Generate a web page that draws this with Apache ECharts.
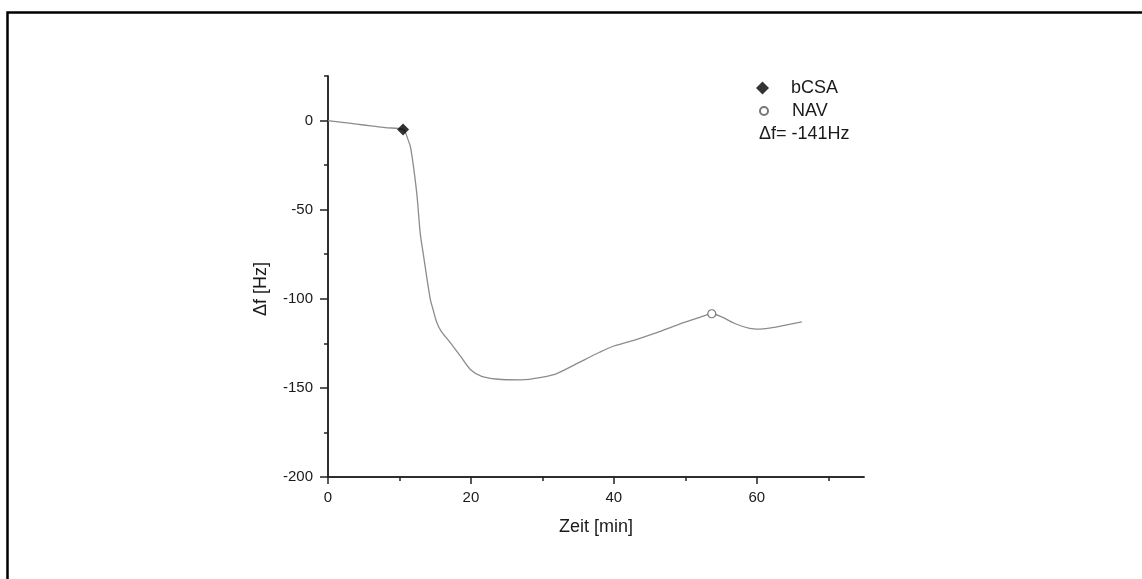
<!DOCTYPE html>
<html>
<head>
<meta charset="utf-8">
<script src="https://cdn.jsdelivr.net/npm/echarts@6/dist/echarts.min.js"></script>
<style>
  html, body { margin: 0; padding: 0; background: #fff; }
  #chart { width: 1142px; height: 579px; }
</style>
</head>
<body>
<div id="chart"></div>
<script>
// Zeit [min] / Δf [Hz]
const zeit = [0, 2, 4, 6, 8, 10.5, 11.2, 11.6, 12.4, 12.9, 13.3, 14.3, 14.7, 15.2, 15.8, 17, 18.5, 20, 21.5, 23.5, 27, 30, 32, 35, 38, 40, 43, 46, 49, 52, 53.7, 55, 57, 59, 60.5, 62.5, 66.3]
const df = [0, -1, -2, -3, -4, -5, -10.7, -16, -40, -63, -74, -100, -106, -113, -118, -124, -132, -140, -143.5, -145, -145.5, -144, -142, -136, -130, -126.5, -123, -119, -114.5, -110.5, -108.4, -110, -114, -116.6, -117, -116, -113]

// markers
const bcsa = [[10.5, -5]]
const nav = [[53.7, -108.4]]

const xMajor = [0, 20, 40, 60]
const xMinor = [10, 30, 50, 70]
const yMajor = [-200, -150, -100, -50, 0]
const yMinor = [-175, -125, -75, -25, 25]

const axisColor = '#222'
const textColor = '#1a1a1a'
const font = 'Liberation Sans'

const myChart = echarts.init(document.getElementById('chart'))

const baseX = {
  type: 'value',
  min: 0,
  max: 75,
  splitLine: { show: false },
  axisLine: { onZero: false, lineStyle: { color: axisColor, width: 1.5 } }
}
const baseY = {
  type: 'value',
  min: -200,
  max: 25,
  splitLine: { show: false },
  axisLine: { onZero: false, lineStyle: { color: axisColor, width: 1.5 } }
}
const legendText = { fontFamily: font, fontSize: 18, color: textColor, padding: [0, 0, 0, 18] }

myChart.setOption({
  animation: false,
  grid: { left: 328, top: 76, right: 278, bottom: 102 },
  xAxis: [
    {
      ...baseX,
      name: 'Zeit [min]',
      nameLocation: 'middle',
      nameGap: 41,
      nameTextStyle: { fontFamily: font, fontSize: 18, color: textColor },
      axisTick: { customValues: xMajor, length: 7, lineStyle: { color: axisColor, width: 1.5 } },
      axisLabel: { customValues: xMajor, margin: 13, fontFamily: font, fontSize: 15, color: textColor }
    },
    {
      ...baseX,
      position: 'bottom',
      axisTick: { customValues: xMinor, length: 4, lineStyle: { color: axisColor, width: 1.5 } },
      axisLabel: { show: false }
    }
  ],
  yAxis: [
    {
      ...baseY,
      axisTick: { customValues: yMajor, length: 8, lineStyle: { color: axisColor, width: 1.5 } },
      axisLabel: { customValues: yMajor, margin: 15, fontFamily: font, fontSize: 15, color: textColor }
    },
    {
      ...baseY,
      position: 'left',
      axisTick: { customValues: yMinor, length: 4, lineStyle: { color: axisColor, width: 1.5 } },
      axisLabel: { show: false }
    }
  ],
  legend: [
    {
      orient: 'vertical',
      left: 756,
      top: 79,
      itemWidth: 13,
      itemHeight: 13,
      padding: 0,
      textStyle: { ...legendText, padding: [0, 0, 0, 17] },
      data: [{ name: 'bCSA', icon: 'diamond' }]
    },
    {
      orient: 'vertical',
      left: 759,
      top: 102,
      itemWidth: 8,
      itemHeight: 8,
      padding: 0,
      textStyle: { ...legendText, padding: [0, 0, 0, 19] },
      data: [{ name: 'NAV', icon: 'circle' }]
    }
  ],
  graphic: [
    // frame of the original figure
    {
      type: 'polyline',
      shape: { points: [[7.5, 579], [7.5, 12.5], [1142, 12.5]] },
      style: { stroke: '#000', lineWidth: 2.5, fill: null }
    },
    {
      type: 'text',
      x: 261,
      y: 289,
      rotation: Math.PI / 2,
      style: {
        text: 'Δf [Hz]',
        fontFamily: font,
        fontSize: 18,
        fill: textColor,
        align: 'center',
        verticalAlign: 'middle'
      }
    },
    {
      type: 'text',
      left: 759,
      top: 125,
      style: {
        text: 'Δf= -141Hz',
        fontFamily: font,
        fontSize: 18,
        fill: textColor
      }
    }
  ],
  series: [
    {
      type: 'line',
      data: zeit.map((x, i) => [x, df[i]]),
      showSymbol: false,
      smooth: 0.3,
      lineStyle: { color: '#8c8c8c', width: 1.3 },
      z: 2
    },
    {
      name: 'bCSA',
      type: 'scatter',
      data: bcsa,
      symbol: 'diamond',
      symbolSize: 12,
      itemStyle: { color: '#000' },
      z: 3
    },
    {
      name: 'NAV',
      type: 'scatter',
      data: nav,
      symbol: 'circle',
      symbolSize: 8,
      itemStyle: { color: '#fff', borderColor: '#777', borderWidth: 1.2, opacity: 1 },
      z: 3
    }
  ]
})
</script>
</body>
</html>
